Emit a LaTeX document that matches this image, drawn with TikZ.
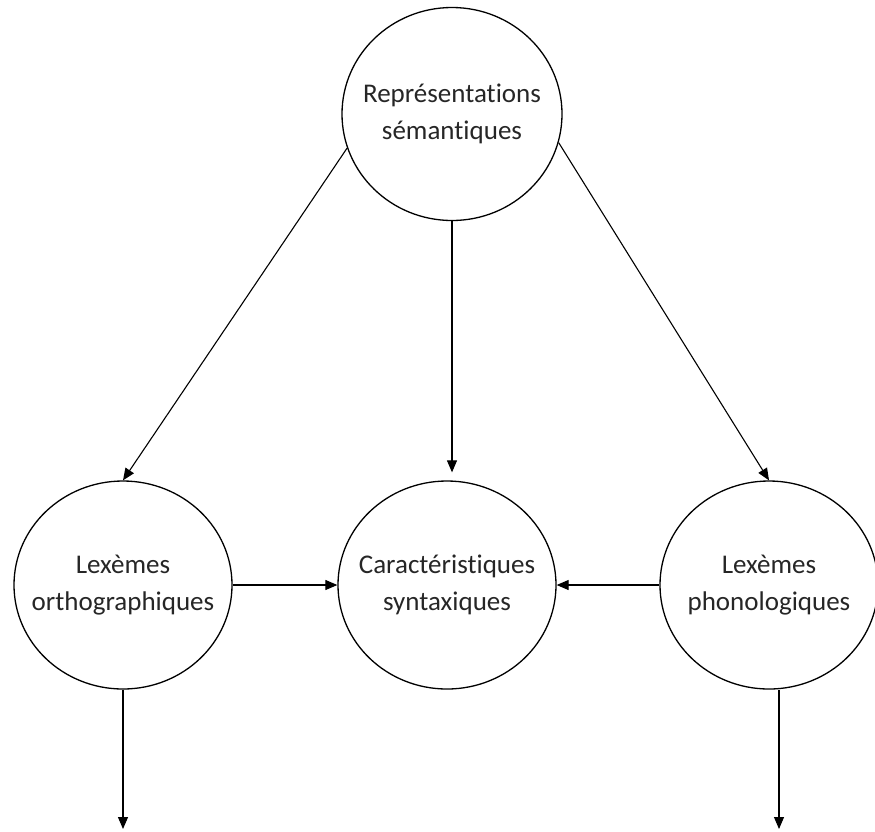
\documentclass[tikz,border=0pt]{standalone}
\usepackage{fontspec}
\setmainfont{Carlito}[Ligatures=NoCommon]
\usetikzlibrary{arrows.meta,shapes.geometric}

\begin{document}
\begin{tikzpicture}[x=1pt,y=1pt,->,>={Triangle[length=12pt,width=10pt]},node distance=324pt,
                    line width=1.1pt,main node/.style={ellipse,draw,line width=1.3pt,inner sep=-40pt,
                    minimum width=218pt,minimum height=208pt,align=center,
                    font=\fontsize{27}{37}\selectfont,text=black!85}]
  \useasboundingbox (0,0) rectangle (875,-831);

  \node[main node] (orth) at (123,-585) {Lexèmes\\orthographiques};
  \node[main node] (synt) [right of=orth] {Caractéristiques\\syntaxiques};
  \node[main node] (phon) [right of=synt,xshift=-2pt] {Lexèmes\\phonologiques};
  \node[main node] (sem) [above of=synt,node distance=471pt,xshift=5pt,
                          minimum width=220pt,minimum height=213pt] {Représentations\\sémantiques};

  \coordinate (orthend) at (123,-829);
  \coordinate (phonend) at (779,-829);

  \path
    (sem.198) edge (orth.north)
    (sem.south) edge [shorten >=8pt] (sem.south |- synt.north)
    (sem.345) edge (phon.north)
    (orth) edge (synt)
    (phon) edge (synt)
    (orth.south) edge (orthend)
    (phon.south -| phonend) edge (phonend)
;
\end{tikzpicture}
\end{document}
